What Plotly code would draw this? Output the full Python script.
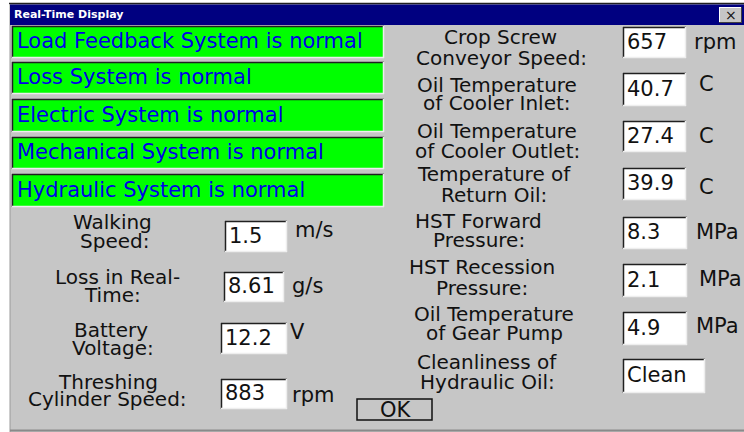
import plotly.graph_objects as go

# ---------------- data ----------------
window_title = "Real-Time Display"
status_messages = [
    "Load Feedback System is normal",
    "Loss System is normal",
    "Electric System is normal",
    "Mechanical System is normal",
    "Hydraulic System is normal",
]
left_labels = [["Walking", "Speed:"], ["Loss in Real-", "Time:"],
               ["Battery", "Voltage:"], ["Threshing", "Cylinder Speed:"]]
left_values = ["1.5", "8.61", "12.2", "883"]
left_units = ["m/s", "g/s", "V", "rpm"]

right_labels = [["Crop Screw", "Conveyor Speed:"],
                ["Oil Temperature", "of Cooler Inlet:"],
                ["Oil Temperature", "of Cooler Outlet:"],
                ["Temperature of", "Return Oil:"],
                ["HST Forward", "Pressure:"],
                ["HST Recession", "Pressure:"],
                ["Oil Temperature", "of Gear Pump"],
                ["Cleanliness of", "Hydraulic Oil:"]]
right_values = ["657", "40.7", "27.4", "39.9", "8.3", "2.1", "4.9", "Clean"]
right_units = ["rpm", "C", "C", "C", "MPa", "MPa", "MPa", ""]
button_text = "OK"

# ---------------- layout (pixel positions) ----------------
W, H = 744, 432
FONT = "DejaVu Sans"
FS = 21      # single-line texts
FS_LBL = 20  # two-line labels
GRAY = "#c6c6c6"

green_rows = [(26, 58), (62, 94), (99, 132), (137, 169), (174, 207)]
green_x = (12, 384)

left_label_pos = [((112, 222), (114, 241)), ((117, 277), (112, 295)),
                  ((111, 330), (113, 348)), ((108, 382), (107, 399))]
left_boxes = [(225, 287, 221, 252), (224, 284, 272, 302),
              (221, 287, 323, 354), (221, 287, 379, 409)]
left_unit_pos = [(293, 230), (290, 286), (288, 332), (290, 395)]

right_label_pos = [((500, 37), (501, 58)), ((497, 85), (497, 103)),
                   ((497, 131), (497, 151)), ((494, 174), (494, 195)),
                   ((478, 221), (479, 240)), ((482, 267), (482, 288)),
                   ((494, 314), (494, 333)), ((487, 362), (487, 382))]
right_boxes = [(623, 686, 27, 58), (623, 686, 73, 106), (623, 686, 121, 152),
               (623, 686, 168, 200), (623, 687, 217, 249), (623, 687, 264, 297),
               (623, 687, 312, 345), (623, 705, 359, 393)]
right_unit_pos = [(692, 42), (697, 84), (697, 136), (697, 187),
                  (694, 232), (697, 279), (694, 326), (0, 0)]

shapes = []
annotations = []


def rect(x0, x1, y0, y1, fill, line_color=None, lw=0):
    shapes.append(dict(type="rect", xref="x", yref="y", x0=x0, x1=x1, y0=y0, y1=y1,
                       fillcolor=fill, line=dict(width=lw, color=line_color or fill),
                       layer="below"))


def line(x0, y0, x1, y1, color, lw=1):
    shapes.append(dict(type="line", xref="x", yref="y", x0=x0, y0=y0, x1=x1, y1=y1,
                       line=dict(color=color, width=lw), layer="below"))


def text(x, y, s, size=FS, color="#111111", anchor="center", bold=False):
    annotations.append(dict(x=x, y=y, xref="x", yref="y", text=s, showarrow=False,
                            xanchor=anchor, yanchor="middle",
                            font=dict(family=FONT, size=size, color=color,
                                      weight="bold" if bold else "normal")))


def sunken(x0, x1, y0, y1, fill):
    rect(x0, x1, y0, y1, fill)
    line(x0, y0 + 0.5, x1, y0 + 0.5, "#202020", 1.5)
    line(x0 + 0.5, y0, x0 + 0.5, y1, "#202020", 1.5)
    line(x0, y1 - 0.5, x1, y1 - 0.5, "#eeeeee", 1.5)
    line(x1 - 0.5, y0, x1 - 0.5, y1, "#eeeeee", 1.5)


# window body
rect(10, W, 4, H, GRAY)
line(9, 3.5, W, 3.5, "#202020", 1.5)
line(10, 4, 10, H, "#9a9a9a", 1)
line(10, H - 1.5, W, H - 1.5, "#8a8a8a", 2)
# title bar
rect(10, W, 4.5, 25, "#000080")
text(12, 14.5, window_title, size=11, color="white", anchor="left", bold=True)
# close button
rect(719, 742, 7, 23, GRAY)
line(719, 7.5, 742, 7.5, "#ffffff", 1)
line(719.5, 7, 719.5, 23, "#ffffff", 1)
line(719, 22.5, 742, 22.5, "#404040", 1)
line(741.5, 7, 741.5, 23, "#404040", 1)
text(730.5, 15, "\u00d7", size=14, color="#111111")

# status rows
for (y0, y1), msg in zip(green_rows, status_messages):
    sunken(green_x[0], green_x[1], y0, y1, "#00ff00")
    text(15, (y0 + y1) / 2 - 1, msg, color="#0000e6", anchor="left")

# left fields
for lbl, pos, box, val, upos, unit in zip(left_labels, left_label_pos, left_boxes,
                                          left_values, left_unit_pos, left_units):
    for s, (px, py) in zip(lbl, pos):
        text(px, py, s, size=FS_LBL)
    x0, x1, y0, y1 = box
    sunken(x0, x1, y0, y1, "white")
    text(x0 + 2, (y0 + y1) / 2 - 1, val, anchor="left")
    text(upos[0], upos[1], unit, anchor="left")

# right fields
for lbl, pos, box, val, upos, unit in zip(right_labels, right_label_pos, right_boxes,
                                          right_values, right_unit_pos, right_units):
    for s, (px, py) in zip(lbl, pos):
        text(px, py, s, size=FS_LBL)
    x0, x1, y0, y1 = box
    sunken(x0, x1, y0, y1, "white")
    text(x0 + 2, (y0 + y1) / 2 - 1, val, anchor="left")
    if unit:
        text(upos[0], upos[1], unit, anchor="left")

# OK button
rect(357, 432, 399, 420, GRAY, "#111111", 1.5)
text(396, 409.5, button_text)

fig = go.Figure()
fig.update_layout(
    width=W, height=H, margin=dict(l=0, r=0, t=0, b=0),
    paper_bgcolor="white", plot_bgcolor="white",
    xaxis=dict(range=[0, W], visible=False, fixedrange=True),
    yaxis=dict(range=[H, 0], visible=False, fixedrange=True),
    shapes=shapes, annotations=annotations, showlegend=False,
)
fig.write_html(
    "out.html",
    config={"displayModeBar": False},
    post_script="document.body.style.margin='0';document.body.style.overflow='hidden';",
)
